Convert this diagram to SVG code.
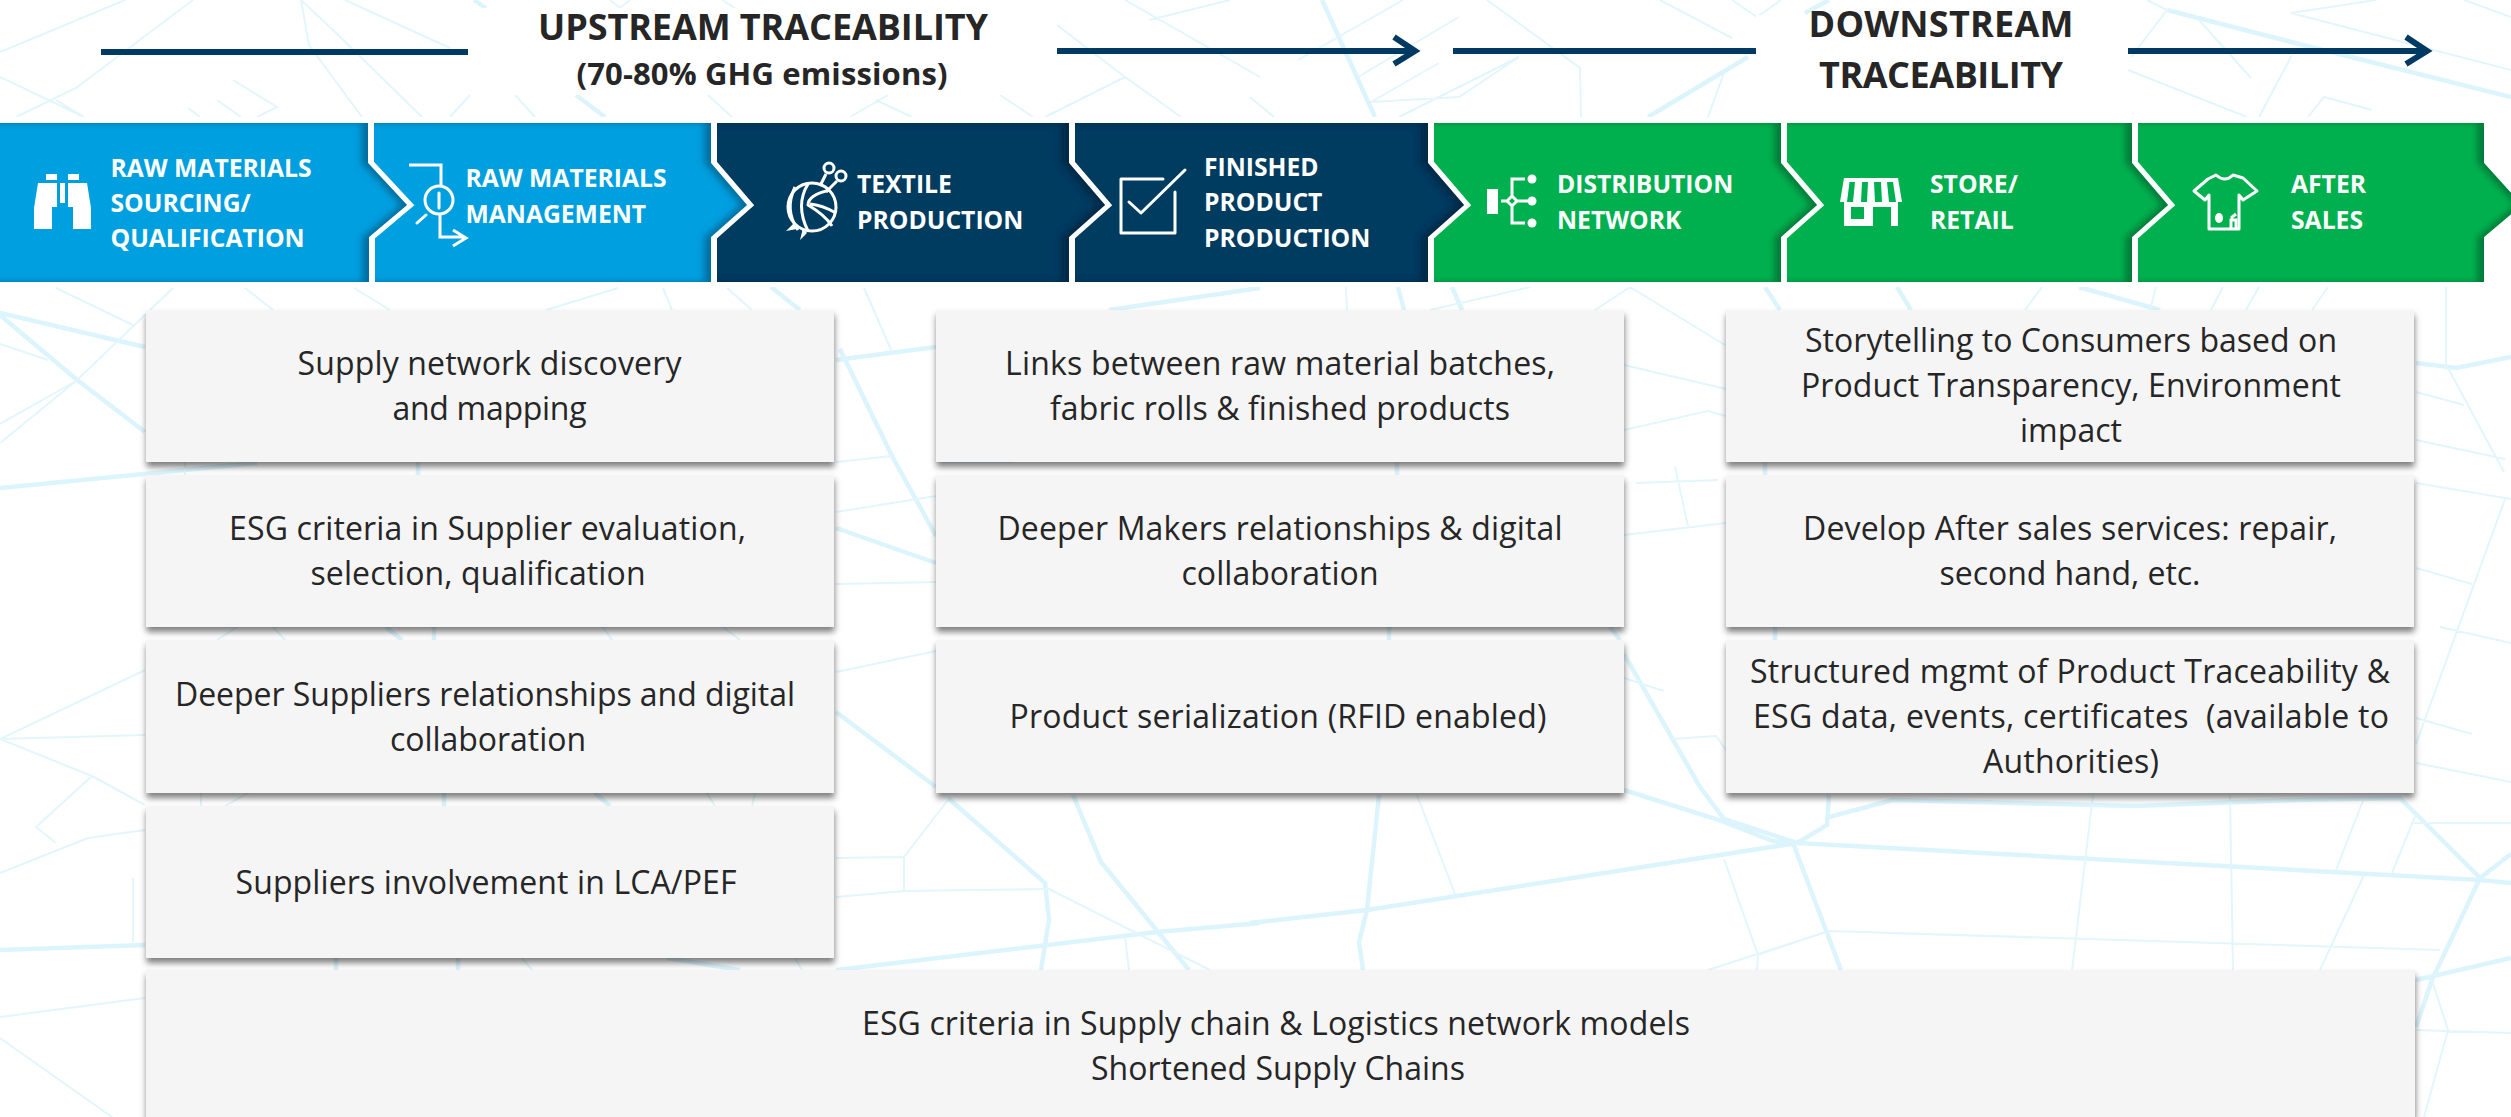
<svg xmlns="http://www.w3.org/2000/svg" width="2511" height="1117" viewBox="0 0 2511 1117">
<defs>
<style>
text{font-family:"Open Sans","Noto Sans","Liberation Sans",sans-serif}
.t{font-size:32px;fill:#262626;text-anchor:middle}
.h{font-size:36px;font-weight:700;fill:#262626;text-anchor:middle}
.s{font-size:24.7px;font-weight:700;fill:#fff}
.c{fill:#f5f5f5;filter:url(#sh)}
.m{fill:none;stroke:#e2f6fc;stroke-width:2}
.M{fill:none;stroke:#dcf4fc;stroke-width:4.5}
.l{stroke:#003a63;stroke-width:6;fill:none}
.g{fill:none;stroke:#fff;stroke-width:6}
.i{fill:#fff;stroke:none}
.o{fill:none;stroke:#fff;stroke-width:3}
</style>
<filter id="sh" x="-5%" y="-10%" width="110%" height="125%"><feDropShadow dx="0.5" dy="5" stdDeviation="3" flood-color="#000" flood-opacity=".5"/></filter>
<filter id="in" x="-2%" y="-2%" width="104%" height="104%"><feOffset in="SourceAlpha" dx="-7" result="o"/><feGaussianBlur in="o" stdDeviation="3" result="b"/><feComposite in="SourceAlpha" in2="b" operator="out" result="e"/><feFlood flood-color="#001020" flood-opacity=".55"/><feComposite in2="e" operator="in" result="d"/><feMerge><feMergeNode in="SourceGraphic"/><feMergeNode in="d"/></feMerge></filter>
</defs>
<rect width="2511" height="1117" fill="#fff"/>
<g id="map">
<path class="M" d="M0 313L145 347M0 315L76 379L145 432M0 488L257 463M836 360L936 347M840 349L892 456L936 536M836 528L936 563M836 712L936 787M948 798L1045 883L1049 920L1041 970M1073 795L1101 862L1189 970M836 970L1157 932L1260 923M0 950L145 945M771 287L800 310M1109 310L1260 288
M1624 654L1700 787L1724 819L1797 843M1624 790L1716 819L1773 841L1793 843M1829 795L1827 825L1797 843M1829 817L1893 800L2135 806L2295 800L2400 798L2480 878M1797 843L2480 880L2511 883M1250 923L1367 910L1797 843M1367 910L1359 942L1363 970M1379 795L1367 910M1793 843L1841 970M2480 878L2432 980L2416 1027M2480 878L2511 854M2416 980L2511 958M2416 363L2456 368L2511 357
M474 0L486 8M576 95L605 117M1322 0L1375 117M1748 57L1648 117M1829 0L1805 13M2167 10L2295 43L2511 97
M418 462V475M386 627L402 640M434 627V640M444 793V806M595 793L610 806M336 958V970M458 958V970M667 958L740 970M1398 287L1404 310M1452 287L1462 310M1765 287L1780 310M1897 287L1911 310M2079 287L2160 310M1397 462V475M1765 462V475M1389 627V640M1610 627L1620 640M1775 627V640"/>
<path class="m" d="M125 0L0 52M193 0L76 88L16 117M301 0L333 30L422 117M301 0L309 45L362 117M345 0L450 48M0 77L84 117M233 80L277 107L257 117M56 100L84 117M188 108L200 117M217 100L241 117M450 117L470 95M515 95L535 117M708 95L732 117M888 95L850 117M876 100L912 117M1000 95L1033 117M1045 117L1125 77L1181 117M1057 25L1125 77M1125 0L1260 77M1149 20L1230 0M610 0L620 8L630 0M722 0L735 8
M1403 0L1298 60M1250 97L1274 117M1371 102L1459 97L1519 57M1459 17L1358 77M1439 63L1371 102M1487 0L1580 68L1581 117M1660 0L1732 38M1724 73L1708 117M1519 57L1399 117M1732 0L1757 17L1781 0M2147 0L2167 10L2131 57M2199 20L2251 78M2291 13L2376 0M2291 13L2511 70M2128 70L2247 117M2292 55L2259 117M2308 117L2324 97L2372 110M2464 0L2511 17M2484 137L2511 134M2484 237L2511 240
M56 288L133 325M0 344L48 360M173 288L76 381L0 443M76 381L0 424M245 288L273 310M354 288L390 310M546 310L618 288M663 288L672 310M727 288L752 310M864 288L892 352M836 462L892 456M145 670L0 739L92 776L36 827L56 843M0 739L145 735M92 776L145 805M0 873L88 838L145 830M133 878V942M0 1017L145 998M0 1038L112 1117
M836 512L936 496M836 584L936 582M836 672L936 651M836 897L904 891V857L948 800M836 858L904 857M904 891L1049 889L1210 970M1125 937L1129 970M185 462V475M217 640L237 627M273 627L285 640M603 627L612 640M723 627L740 640M201 793V806M225 806L248 793M707 793L715 806M755 793L752 806M522 958L532 970M795 958L802 970M936 462L1014 462
M1624 365L1726 389M1624 430L1708 411L1726 416M1624 535L1726 523M1636 483L1718 480M1675 467L1688 526M1624 678L1664 691M1672 739L1716 736L1726 750M1417 795L1455 894M1724 859L1758 955L1757 970M1829 931L2440 950M1757 955L1829 931L1708 970M2093 795L2072 970M2230 795L2233 970M2364 798L2336 870M2364 875L2320 970M2416 814L2392 873M2414 823L2511 823M2416 1030L2511 1033M2432 980L2448 1030L2424 1117M2416 392L2464 405M2416 440L2505 459M2416 483L2511 499M2448 368L2504 472M2416 568L2472 584M2505 499L2416 744M2440 627L2511 643M2416 718L2472 734M2416 763L2511 782
M1347 310L1346 287M1430 310L1530 287M1595 310L1630 287M1630 287L1725 345M2025 310L2042 287M2150 310L2156 287M2211 310L2223 287M2246 310L2259 287M2312 310L2328 287M2446 287V370"/>
</g>
<rect x="468" y="8" width="589" height="87" fill="#fff"/>
<rect x="1756" y="15" width="372" height="102" fill="#fff"/>
<rect y="117" width="2511" height="170" fill="#fff"/>
<g id="connectors">
<path class="l" d="M101 52H468"/>
<path class="l" d="M1057 51H1414M1394 37L1415 51L1394 64"/>
<path class="l" d="M1453 51H1756"/>
<path class="l" d="M2128 51H2426M2406 37L2427 51L2406 64"/>
</g>
<g id="titles">
<text class="h" x="763" y="40" textLength="450">UPSTREAM TRACEABILITY</text>
<text x="762" y="85" font-size="31" font-weight="700" fill="#262626" text-anchor="middle" textLength="371">(70-80% GHG emissions)</text>
<text class="h" x="1941" y="37" textLength="265">DOWNSTREAM</text>
<text class="h" x="1941" y="88" textLength="244">TRACEABILITY</text>
</g>
<g id="seg7"><path filter="url(#in)" fill="#00b050" d="M2138 123H2484V163L2522 205L2484 237V282H2138Z"/><text class="s" x="2291" y="193">AFTER</text><text class="s" x="2291" y="229">SALES</text>
<path class="o" stroke-linejoin="round" stroke-width="4" d="M2216 175Q2225 183 2233 175L2243 178L2257 191L2243 200L2239 195V229H2209V195L2205 200L2194 191L2208 179Z"/><ellipse class="i" cx="2219" cy="218" rx="4" ry="5"/><path class="o" d="M2231 228V220H2236V228M2236 214L2231 218"/></g>
<g id="seg6"><path class="g" d="M2135 123V163L2171 205L2135 237V282"/><path filter="url(#in)" fill="#00b050" d="M1786 123H2132V163L2168 205L2132 237V282H1786Z"/><text class="s" x="1930" y="193">STORE/</text><text class="s" x="1930" y="229">RETAIL</text>
<path class="i" d="M1844 178H1898L1902 202H1840Z"/><path fill="#00b050" d="M1849.5 182H1855L1853 202H1847ZM1862 182H1868L1867 202H1861ZM1874 182H1881L1882 202H1875ZM1887 182H1893L1896 202H1889Z"/><path class="i" d="M1844 202H1898V226H1891V207H1873V226H1844ZM1851 207V219H1864V207Z" fill-rule="evenodd"/></g>
<g id="seg5"><path class="g" d="M1784 123V163L1820 205L1784 237V282"/><path filter="url(#in)" fill="#00b050" d="M1434 123H1781V163L1817 205L1781 237V282H1434Z"/><text class="s" x="1557" y="193">DISTRIBUTION</text><text class="s" x="1557" y="229">NETWORK</text>
<rect class="i" x="1487" y="189" width="11" height="25"/><circle class="i" cx="1532" cy="179" r="4.5"/><circle class="i" cx="1532" cy="201" r="4.5"/><circle class="i" cx="1532" cy="223" r="4.5"/><path class="o" stroke-width="2.5" d="M1501 201H1507M1517 201H1528M1512 196V179H1525M1512 206V223H1525M1512 196L1517 201L1512 206L1507 201Z"/></g>
<g id="seg4"><path class="g" d="M1431 123V163L1467 205L1431 237V282"/><path filter="url(#in)" fill="#003a60" d="M1075 123H1428V163L1464 205L1428 237V282H1075Z"/><text class="s" x="1204" y="176">FINISHED</text><text class="s" x="1204" y="211">PRODUCT</text><text class="s" x="1204" y="247">PRODUCTION</text>
<path class="o" stroke-linecap="round" stroke-linejoin="round" d="M1163 179H1121V233H1175V192M1129 202L1141 213L1185 170"/></g>
<g id="seg3"><path class="g" d="M1072 123V163L1108 205L1072 237V282"/><path filter="url(#in)" fill="#003a60" d="M717 123H1069V163L1105 205L1069 237V282H717Z"/><text class="s" x="857" y="193">TEXTILE</text><text class="s" x="857" y="229">PRODUCTION</text>
<circle class="o" cx="812" cy="207" r="24"/><circle class="o" cx="829" cy="168" r="5"/><circle class="o" cx="841" cy="176" r="5"/><path class="o" stroke-width="5" d="M826 174L820 186M837 181L826 192"/><path class="i" d="M795 222L786 231L797 229ZM803 228L800 240L807 233Z"/><path class="o" stroke-width="2.5" d="M795 187Q784 210 798 230M808 184Q795 205 808 231M830 190Q808 195 808 205Q825 215 832 226M810 204Q822 205 836 213"/></g>
<g id="seg2"><path class="g" d="M714 123V163L750 205L714 237V282"/><path filter="url(#in)" fill="#009fe0" d="M374 123H711V163L747 205L711 237V282H374Z"/><text class="s" x="465.500" y="187">RAW MATERIALS</text><text class="s" x="465.500" y="223">MANAGEMENT</text>
<path class="o" stroke-width="4" d="M409 165H441V185M440 213V237H464M453 230L466 238L453 246"/><circle class="o" cx="439" cy="200" r="14"/><path class="o" stroke-width="4" stroke-linecap="round" d="M439 193V208"/><path class="o" stroke-width="6" stroke-linecap="round" d="M426 215L417 223"/></g>
<g id="seg1"><path class="g" d="M371 123V163L410 205L372 237V282"/><path filter="url(#in)" fill="#009fe0" d="M0 123H368V163L407 205L369 237V282H0Z"/><text class="s" x="110.500" y="177">RAW MATERIALS</text><text class="s" x="110.500" y="212">SOURCING/</text><text class="s" x="110.500" y="247">QUALIFICATION</text>
<path class="i" d="M46 174H57V180H46ZM68 174H79V180H68ZM60 183H65V203H60ZM38 183H57V207H52V229H34V208ZM68 183H87L91 208V229H73V207H68Z"/></g>
<g id="c1"><rect class="c" x="146" y="310" width="688" height="152"/><text class="t" x="489.5" y="375" textLength="384">Supply network discovery</text><text class="t" x="489.5" y="420" textLength="194">and mapping</text></g>
<g id="c2"><rect class="c" x="146" y="475" width="688" height="152"/><text class="t" x="487.5" y="540" textLength="517">ESG criteria in Supplier evaluation,</text><text class="t" x="478" y="585" textLength="335">selection, qualification</text></g>
<g id="c3"><rect class="c" x="146" y="640" width="688" height="153"/><text class="t" x="485" y="706" textLength="620">Deeper Suppliers relationships and digital</text><text class="t" x="488" y="751" textLength="196">collaboration</text></g>
<g id="c4"><rect class="c" x="146" y="806" width="688" height="152"/><text class="t" x="486" y="894" textLength="501">Suppliers involvement in LCA/PEF</text></g>
<g id="c5"><rect class="c" x="936" y="310" width="688" height="152"/><text class="t" x="1280" y="375" textLength="550">Links between raw material batches,</text><text class="t" x="1280" y="420" textLength="460">fabric rolls &amp; finished products</text></g>
<g id="c6"><rect class="c" x="936" y="475" width="688" height="152"/><text class="t" x="1280" y="540" textLength="565">Deeper Makers relationships &amp; digital</text><text class="t" x="1280" y="585" textLength="197">collaboration</text></g>
<g id="c7"><rect class="c" x="936" y="640" width="688" height="153"/><text class="t" x="1278" y="728" textLength="537">Product serialization (RFID enabled)</text></g>
<g id="c8"><rect class="c" x="1726" y="310" width="688" height="152"/><text class="t" x="2071" y="352" textLength="532">Storytelling to Consumers based on</text><text class="t" x="2071" y="397" textLength="540">Product Transparency, Environment</text><text class="t" x="2071" y="442" textLength="102">impact</text></g>
<g id="c9"><rect class="c" x="1726" y="475" width="688" height="152"/><text class="t" x="2070" y="540" textLength="534">Develop After sales services: repair,</text><text class="t" x="2070" y="585" textLength="261">second hand, etc.</text></g>
<g id="c10"><rect class="c" x="1726" y="640" width="688" height="153"/><text class="t" x="2070" y="683" textLength="640">Structured mgmt of Product Traceability &amp;</text><text class="t" x="2071" y="728" textLength="636" xml:space="preserve">ESG data, events, certificates  (available to</text><text class="t" x="2071" y="773" textLength="176">Authorities)</text></g>
<g id="c11"><rect class="c" x="146" y="970" width="2269" height="160"/><text class="t" x="1276" y="1035" textLength="828">ESG criteria in Supply chain &amp; Logistics network models</text><text class="t" x="1278" y="1080" textLength="374">Shortened Supply Chains</text></g>
</svg>
